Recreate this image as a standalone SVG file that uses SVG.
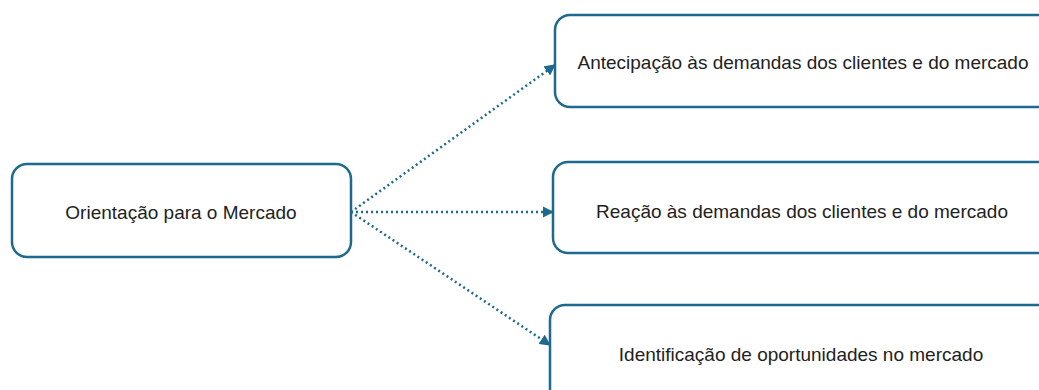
<svg xmlns="http://www.w3.org/2000/svg" width="1039" height="390" viewBox="0 0 1039 390">
<defs>
<marker id="arr" viewBox="0 0 10 10" refX="9" refY="5" markerWidth="4.5" markerHeight="4.5" orient="auto" markerUnits="strokeWidth">
<path d="M0,0 L10,5 L0,10 z" fill="#1d6a8e"/>
</marker>
<style>
.box{fill:#fff;stroke:#1d6a8e;stroke-width:2.5}
.lbl{font-family:"Liberation Sans",Arial,sans-serif;font-size:19px;fill:#222;text-anchor:middle;dominant-baseline:central}
.con{fill:none;stroke:#1d6a8e;stroke-width:2.5;stroke-dasharray:2 3;marker-end:url(#arr)}
</style>
</defs>
<rect width="1039" height="390" fill="#fff"/>
<g id="connectors">
<path class="con" d="M351,212 L555,65"/>
<path class="con" d="M351,212 L553,212"/>
<path class="con" d="M351,212 L550,345"/>
</g>
<g id="n-orientacao">
<rect class="box" x="12" y="164" width="339" height="93" rx="15"/>
<text class="lbl" x="181" y="212">Orientação para o Mercado</text>
</g>
<g id="n-antecipacao">
<rect class="box" x="555" y="15" width="510" height="92" rx="15"/>
<text class="lbl" x="803" y="62">Antecipação às demandas dos clientes e do mercado</text>
</g>
<g id="n-reacao">
<rect class="box" x="553" y="162" width="510" height="91" rx="15"/>
<text class="lbl" x="802" y="211">Reação às demandas dos clientes e do mercado</text>
</g>
<g id="n-identificacao">
<rect class="box" x="550" y="305" width="510" height="100" rx="15"/>
<text class="lbl" x="801" y="354">Identificação de oportunidades no mercado</text>
</g>
</svg>
